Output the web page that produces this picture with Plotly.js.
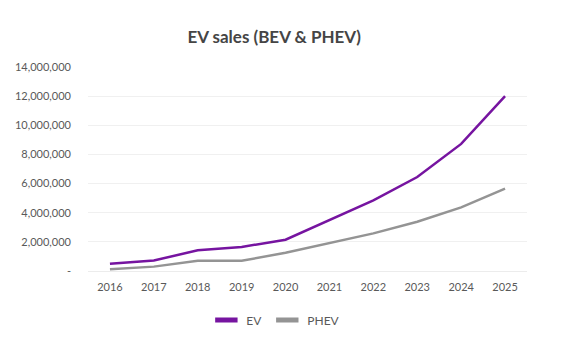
<!DOCTYPE html>
<html>
<head>
<meta charset="utf-8">
<script src="https://cdn.plot.ly/plotly-3.0.1.min.js"></script>
<style>html,body{margin:0;padding:0;background:#fff;}#chart{width:563px;height:350px;}</style>
</head>
<body>
<div id="chart"></div>
<script>
const years = ['2016','2017','2018','2019','2020','2021','2022','2023','2024','2025'];
const evSales = [500000, 720000, 1420000, 1650000, 2150000, 3500000, 4850000, 6450000, 8720000, 12000000];
const phevSales = [120000, 300000, 710000, 700000, 1250000, 1920000, 2580000, 3380000, 4370000, 5650000];
const yTickVals = [0, 2000000, 4000000, 6000000, 8000000, 10000000, 12000000, 14000000];
const yTickText = ['-', '2,000,000', '4,000,000', '6,000,000', '8,000,000', '10,000,000', '12,000,000', '14,000,000'];

const evColor = '#7614a0';
const phevColor = '#949494';

const legendMarker = (c) => ({symbol: 'line-ew', size: 19, color: c, line: {color: c, width: 7}});

const traces = [
  {x: years, y: evSales, type: 'scatter', mode: 'lines', name: 'EV', line: {color: evColor, width: 2.5}, showlegend: false, hoverinfo: 'skip'},
  {x: years, y: phevSales, type: 'scatter', mode: 'lines', name: 'PHEV', line: {color: phevColor, width: 2.5}, showlegend: false, hoverinfo: 'skip'},
  {x: [null], y: [null], type: 'scatter', mode: 'markers', name: 'EV', marker: legendMarker(evColor), showlegend: true},
  {x: [null], y: [null], type: 'scatter', mode: 'markers', name: 'PHEV', marker: legendMarker(phevColor), showlegend: true}
];

const layout = {
  width: 563, height: 350,
  margin: {l: 88, r: 36, t: 67, b: 79},
  paper_bgcolor: '#fff', plot_bgcolor: '#fff',
  font: {family: 'Lato, "Open Sans", sans-serif', color: '#595959', size: 11},
  title: {text: 'EV sales (BEV & PHEV)', font: {size: 17, weight: 'bold', color: '#454545', family: 'Lato, sans-serif'}, x: 0.487, xref: 'container', xanchor: 'center', y: 0.893, yref: 'container', yanchor: 'middle'},
  xaxis: {type: 'category', categoryorder: 'array', categoryarray: years, range: [-0.5, 9.5], showgrid: false, zeroline: false, showline: false, ticks: '', ticklabelstandoff: 8, tickfont: {size: 11, color: '#595959'}, fixedrange: true},
  yaxis: {range: [0, 14000000], tickvals: yTickVals, ticktext: yTickText, showgrid: true, gridcolor: '#f0f0f0', gridwidth: 1, zeroline: true, zerolinecolor: '#ececec', showline: false, ticks: '', ticklabelstandoff: 16, tickfont: {size: 11, color: '#595959'}, fixedrange: true},
  legend: {orientation: 'h', xref: 'container', yref: 'container', x: 0.49, xanchor: 'center', y: 0.086, yanchor: 'middle', font: {size: 12, color: '#595959'}, itemwidth: 30, traceorder: 'normal'},
  showlegend: true
};

Plotly.newPlot('chart', traces, layout, {displayModeBar: false, staticPlot: true});
</script>
</body>
</html>
